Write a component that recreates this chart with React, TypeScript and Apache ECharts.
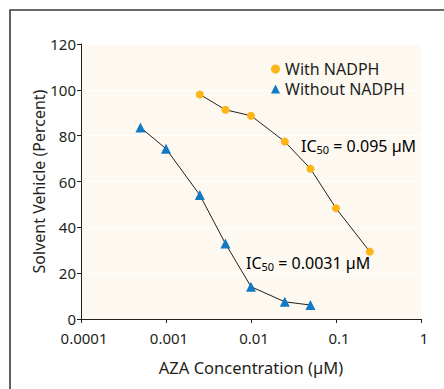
import React, { useEffect, useRef } from "react";
import * as echarts from "echarts";

const concWith = [0.0025, 0.005, 0.01, 0.025, 0.05, 0.1, 0.25];
const valuesWith = [98, 91.3, 88.7, 77.4, 65.6, 48.3, 29.4];
const concWithout = [0.0005, 0.001, 0.0025, 0.005, 0.01, 0.025, 0.05];
const valuesWithout = [83.6, 74.3, 54.1, 32.9, 14.1, 7.5, 6.1];
const xTickLabels: Record<string, string> = {
  "0.0001": "0.0001",
  "0.001": "0.001",
  "0.01": "0.01",
  "0.1": "0.1",
  "1": "1",
};
const seriesNames = ["With NADPH", "Without NADPH"];
const ic50Labels = ["0.095 µM", "0.0031 µM"];

const FONT = "Noto Sans";
const TEXT = "#231f20";
const ORANGE = "#FBB517";
const BLUE = "#1279C2";

export default function App() {
  const ref = useRef<HTMLDivElement>(null);
  useEffect(() => {
    if (!ref.current) return;
    const chart = echarts.init(ref.current, undefined, { renderer: "svg" });
    const rich = {
      a: { fontFamily: FONT, fontSize: 16, color: TEXT, lineHeight: 19 },
      b: { fontFamily: FONT, fontSize: 11, color: TEXT, lineHeight: 11, verticalAlign: "bottom" as const },
    };
    chart.setOption({
      animation: false,
      textStyle: { fontFamily: FONT },
      grid: {
        left: 81,
        top: 44,
        right: 23,
        bottom: 70,
        show: true,
        backgroundColor: "#FDF9F1",
        borderWidth: 0,
      },
      legend: {
        orient: "vertical",
        left: 266,
        top: 56,
        padding: 5,
        itemWidth: 9,
        itemHeight: 9,
        itemGap: 4,
        textStyle: { fontFamily: FONT, fontSize: 16, color: TEXT, lineHeight: 16 },
        data: [
          { name: seriesNames[0], icon: "circle" },
          { name: seriesNames[1], icon: "triangle" },
        ],
      },
      xAxis: {
        type: "log",
        logBase: 10,
        min: 0.0001,
        max: 1,
        name: "AZA Concentration (µM)",
        nameLocation: "middle",
        nameGap: 40,
        nameMoveOverlap: false,
        nameTextStyle: { fontFamily: FONT, fontSize: 16.5, color: TEXT },
        axisLine: { lineStyle: { color: "#231f20", width: 1 } },
        axisTick: { length: 4, lineStyle: { color: "#231f20" } },
        splitLine: { show: false },
        minorTick: { show: false },
        axisLabel: {
          fontFamily: FONT,
          fontSize: 15,
          color: TEXT,
          margin: 11,
          lineHeight: 15,
          padding: [0, 0, 0, 6],
          formatter: (v: number) => {
            const key = String(Number(v.toPrecision(6)));
            return xTickLabels[key] ?? key;
          },
        },
      },
      yAxis: {
        type: "value",
        min: 0,
        max: 120,
        interval: 20,
        name: "Solvent Vehicle (Percent)",
        nameLocation: "middle",
        nameGap: 34,
        nameMoveOverlap: false,
        nameTextStyle: { fontFamily: FONT, fontSize: 16, color: TEXT },
        axisLine: { show: true, lineStyle: { color: "#231f20", width: 1 } },
        axisTick: { show: true, length: 4, lineStyle: { color: "#231f20" } },
        splitLine: { show: true, lineStyle: { color: "#ffffff", width: 1 } },
        axisLabel: { fontFamily: FONT, fontSize: 15, color: TEXT, margin: 5, lineHeight: 14 },
      },
      series: [
        {
          name: seriesNames[0],
          type: "line",
          data: concWith.map((c, i) => [c, valuesWith[i]]),
          symbol: "circle",
          symbolSize: 8,
          itemStyle: { color: ORANGE },
          lineStyle: { color: "#231f20", width: 1 },
          z: 3,
        },
        {
          name: seriesNames[1],
          type: "line",
          data: concWithout.map((c, i) => [c, valuesWithout[i]]),
          symbol: "triangle",
          symbolSize: 10,
          itemStyle: { color: BLUE },
          lineStyle: { color: "#231f20", width: 1 },
          z: 3,
        },
      ],
      graphic: [
        {
          type: "rect",
          shape: { x: 10, y: 10, width: 600, height: 600 },
          style: { fill: "none", stroke: "#3a3a3a", lineWidth: 1.6 },
          silent: true,
        },
        {
          type: "text",
          x: 301,
          y: 136,
          style: { text: `{a|IC}{b|50}{a| = ${ic50Labels[0]}}`, rich },
        },
        {
          type: "text",
          x: 246,
          y: 253,
          style: { text: `{a|IC}{b|50}{a| = ${ic50Labels[1]}}`, rich },
        },
      ],
    });
    return () => chart.dispose();
  }, []);
  return (
    <div
      ref={ref}
      style={{ position: "absolute", left: 0, top: 0, width: 444, height: 389, background: "#fff" }}
    />
  );
}
